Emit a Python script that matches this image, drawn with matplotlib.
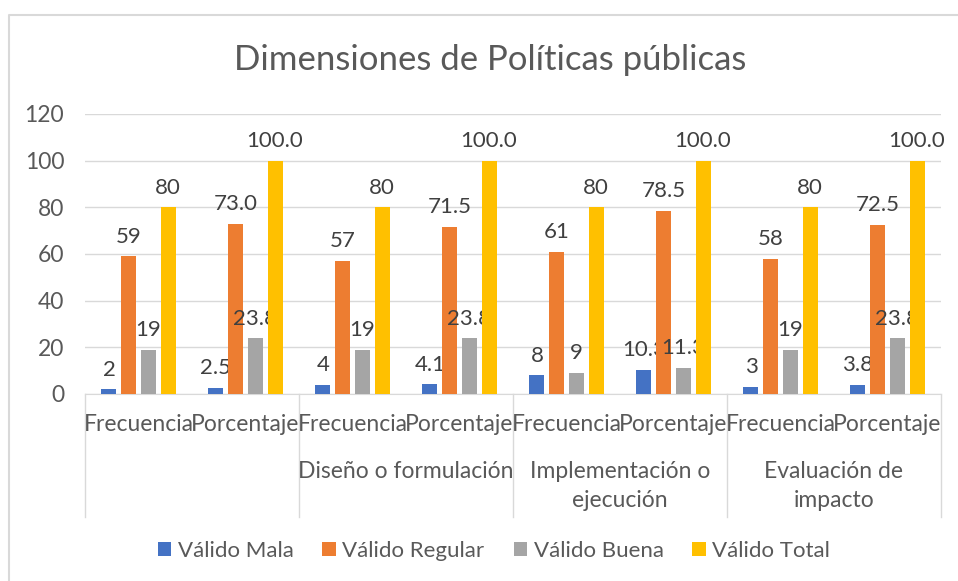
# Dimensiones de Políticas públicas - clustered columns, two level category axis

import numpy as np
import matplotlib.pyplot as plt
from matplotlib.lines import Line2D

plt.rcParams['font.family'] = ['Lato', 'DejaVu Sans']

medidas = ['Frecuencia', 'Porcentaje'] * 4
dimensiones = ['', 'Diseño o formulación', 'Implementación o\nejecución',
               'Evaluación de\nimpacto']

series = ['Válido Mala', 'Válido Regular', 'Válido Buena', 'Válido Total']
mala = [2, 2.5, 4, 4.1, 8, 10.3, 3, 3.8]
regular = [59, 73.0, 57, 71.5, 61, 78.5, 58, 72.5]
buena = [19, 23.8, 19, 23.8, 9, 11.3, 19, 23.8]
total = [80, 100.0, 80, 100.0, 80, 100.0, 80, 100.0]

colores = ['#4472C4', '#ED7D31', '#A5A5A5', '#FFC000']
gris = '#595959'

W, H = 958, 581
fig = plt.figure(figsize=(W / 100, H / 100), dpi=100)
ax = fig.add_axes([85 / W, (H - 394) / H, (941 - 85) / W, (394 - 114) / H])

x = np.arange(len(medidas))
ancho = 0.14
paso = 0.184
datos = [mala, regular, buena, total]
for k, (nombre, vals, c) in enumerate(zip(series, datos, colores)):
    pos = x + (k - 1.5) * paso
    barras = ax.bar(pos, vals, ancho, color=c, label=nombre, zorder=3)
    etiquetas = []
    for j, v in enumerate(vals):
        etiquetas.append('%d' % v if j % 2 == 0 else '%.1f' % v)
    ax.bar_label(barras, labels=etiquetas, padding=7, fontsize=16, color='#404040')

ax.set_xlim(-0.5, len(medidas) - 0.5)
ax.set_ylim(0, 120)
ax.set_yticks(range(0, 121, 20))
ax.tick_params(axis='y', length=0, labelsize=16.5, labelcolor=gris, pad=15)
ax.set_xticks([])
ax.grid(axis='y', color='#d9d9d9', linewidth=1, zorder=0)
for s in ['top', 'right', 'left']:
    ax.spines[s].set_visible(False)
ax.spines['bottom'].set_color('#d9d9d9')

# category axis, two levels
trans = ax.get_xaxis_transform()
for j, m in enumerate(medidas):
    ax.text(x[j], -0.11, m, transform=trans, ha='center', va='center',
            fontsize=16.5, color=gris)
for i, d in enumerate(dimensiones):
    for n, linea in enumerate(d.split('\n')):
        ax.text(2 * i + 0.5, -0.275 - n * 0.107, linea, transform=trans,
                ha='center', va='center', fontsize=16.5, color=gris)
for b in np.arange(-0.5, len(medidas), 2):
    ax.plot([b, b], [0, -0.44], transform=trans, color='#d9d9d9', lw=1,
            clip_on=False)

fig.text(490 / W, (H - 60) / H, 'Dimensiones de Políticas públicas',
         ha='center', va='center', fontsize=25, color=gris)

fig.legend(loc='center', bbox_to_anchor=(494 / W, (H - 551) / H), ncol=4,
           frameon=False, fontsize=16, labelcolor=gris, handlelength=0.6,
           handleheight=0.6, columnspacing=1.3, handletextpad=0.3)

# chart area border (only top and left edges show)
fig.lines.append(Line2D([9 / W, 9 / W, 1], [0, (H - 15) / H, (H - 15) / H],
                        transform=fig.transFigure, color='#d9d9d9', lw=1.5))

fig.savefig('out.png', dpi=100)
